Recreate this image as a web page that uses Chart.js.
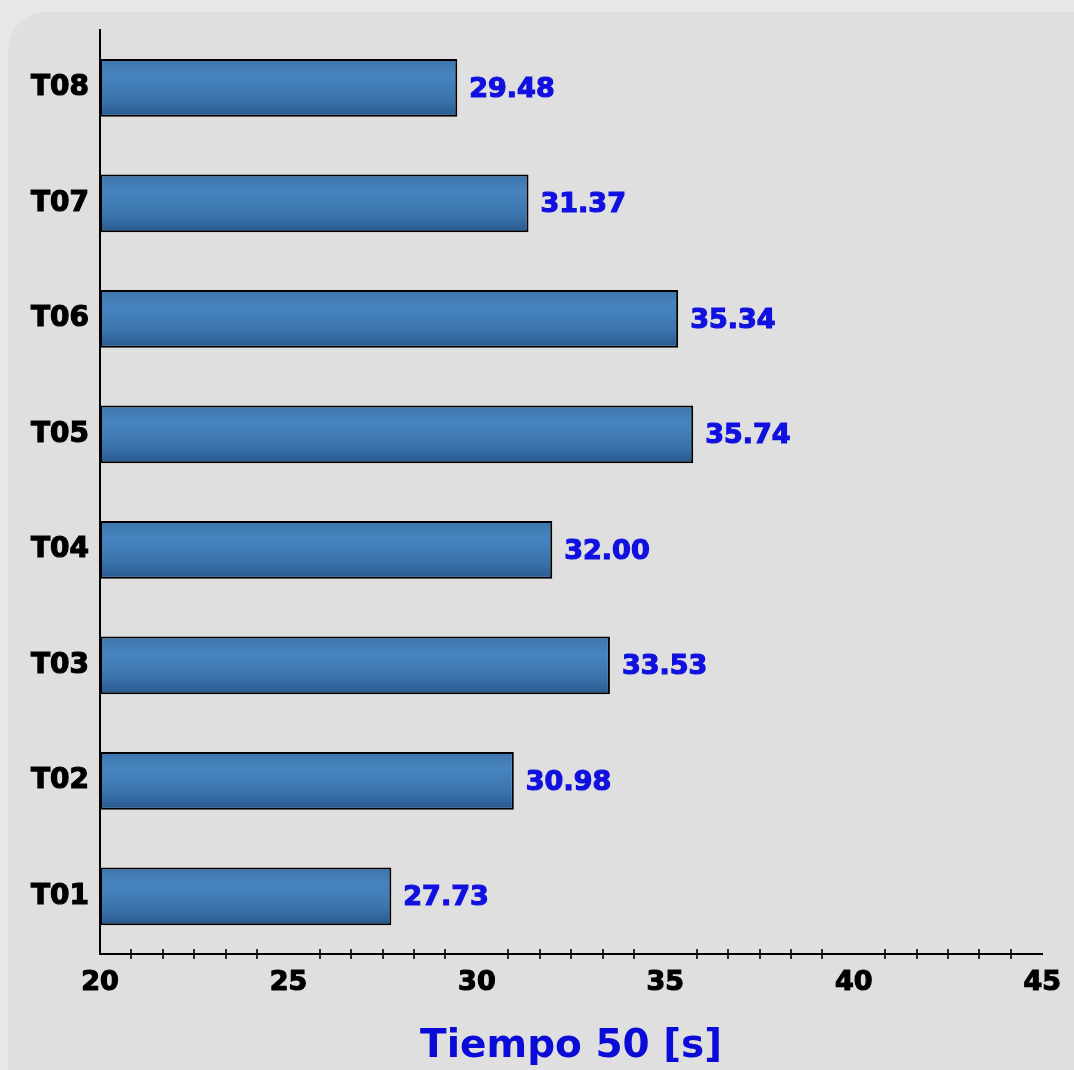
<!DOCTYPE html>
<html>
<head>
<meta charset="utf-8">
<script src="https://cdn.jsdelivr.net/npm/chart.js@4"></script>
<style>
  html, body { margin: 0; padding: 0; background: #e7e7e7; }
  #wrap { position: relative; width: 1074px; height: 1070px; overflow: hidden; }
  #panel { position: absolute; left: 8px; top: 12px; width: 1120px; height: 1120px;
           background: #dfdfdf; border-radius: 38px; }
  #chart { position: absolute; left: 0; top: 0; }
</style>
</head>
<body>
<div id="wrap">
  <div id="panel"></div>
  <canvas id="chart" width="1074" height="1070"></canvas>
</div>
<script>
// data
const categories = ["T01", "T02", "T03", "T04", "T05", "T06", "T07", "T08"];
const tiempo50 = [27.73, 30.98, 33.53, 32.00, 35.74, 35.34, 31.37, 29.48];
const xMin = 20;
const xMax = 45;
const xStep = 5;
const minorPerMajor = 6;

const fontFam = "'DejaVu Sans', sans-serif";
const barPct = 0.5;
const labelBlue = "#1010e0";

// y axis is drawn bottom-up so T08 sits on top
const labels = categories.slice().reverse();
const values = tiempo50.slice().reverse();

function barFill(ctx) {
  const chart = ctx.chart;
  const ys = chart.scales && chart.scales.y;
  if (!chart.chartArea || !ys) return "#3d78b2";
  const yc = ys.getPixelForValue(ctx.dataIndex);
  const h = Math.abs(ys.getPixelForValue(0) - ys.getPixelForValue(1)) * barPct;
  if (!isFinite(yc) || !isFinite(h) || h === 0) return "#3d78b2";
  const top = yc - h / 2;
  const g = chart.ctx.createLinearGradient(0, top, 0, top + h);
  g.addColorStop(0, "#3d75ad");
  g.addColorStop(0.3, "#4784bf");
  g.addColorStop(0.7, "#3a74ad");
  g.addColorStop(1, "#27598e");
  return g;
}

// small tick marks across the x axis line
const minorTicks = {
  id: "minorTicks",
  afterDraw(chart) {
    const x = chart.scales.x;
    const ctx = chart.ctx;
    const y0 = chart.chartArea.bottom;
    const n = (xMax - xMin) / xStep * minorPerMajor;
    ctx.save();
    ctx.strokeStyle = "#000";
    ctx.lineWidth = 1.6;
    for (let i = 1; i < n; i++) {
      if (i % minorPerMajor === 0) continue;
      const px = Math.round(x.getPixelForValue(xMin + i * xStep / minorPerMajor));
      ctx.beginPath();
      ctx.moveTo(px, y0 - 5);
      ctx.lineTo(px, y0 + 5);
      ctx.stroke();
    }
    ctx.restore();
  }
};

// blue value text after each bar
const valueLabels = {
  id: "valueLabels",
  afterDatasetsDraw(chart) {
    const ctx = chart.ctx;
    const meta = chart.getDatasetMeta(0);
    ctx.save();
    ctx.fillStyle = labelBlue;
    ctx.strokeStyle = labelBlue;
    ctx.lineWidth = 1.2;
    ctx.font = "bold 27px " + fontFam;
    ctx.textAlign = "left";
    ctx.textBaseline = "middle";
    meta.data.forEach((bar, i) => {
      const s = values[i].toFixed(2);
      ctx.strokeText(s, bar.x + 12, bar.y + 2);
      ctx.fillText(s, bar.x + 12, bar.y + 2);
    });
    ctx.restore();
  }
};

new Chart(document.getElementById("chart"), {
  type: "bar",
  data: {
    labels: labels,
    datasets: [{
      data: values,
      base: xMin,
      backgroundColor: barFill,
      borderColor: "#000",
      borderWidth: 2,
      borderSkipped: false,
      barPercentage: barPct,
      categoryPercentage: 1.0
    }]
  },
  options: {
    indexAxis: "y",
    responsive: false,
    animation: false,
    layout: { padding: { left: 0, right: 29, top: 30, bottom: 0 } },
    plugins: {
      legend: { display: false },
      tooltip: { enabled: false }
    },
    scales: {
      x: {
        min: xMin,
        max: xMax,
        ticks: {
          stepSize: xStep,
          color: "#000",
          textStrokeColor: "#000",
          textStrokeWidth: 1.2,
          padding: 13,
          font: { family: fontFam, size: 27, weight: "bold" }
        },
        grid: { display: false, drawTicks: false },
        border: { display: true, color: "#000", width: 2 },
        title: {
          display: true,
          text: "Tiempo 50 [s]",
          color: "#0b0bd8",
          padding: { top: 2, bottom: 0 },
          font: { family: fontFam, size: 39, weight: "bold" }
        },
        afterFit(scale) { scale.height = 116; }
      },
      y: {
        ticks: {
          color: "#000",
          textStrokeColor: "#000",
          textStrokeWidth: 1.2,
          padding: 11,
          font: { family: fontFam, size: 28, weight: "bold" }
        },
        grid: { display: false, drawTicks: false },
        border: { display: true, color: "#000", width: 2 },
        afterFit(scale) { scale.width = 100; }
      }
    }
  },
  plugins: [minorTicks, valueLabels]
});
</script>
</body>
</html>
